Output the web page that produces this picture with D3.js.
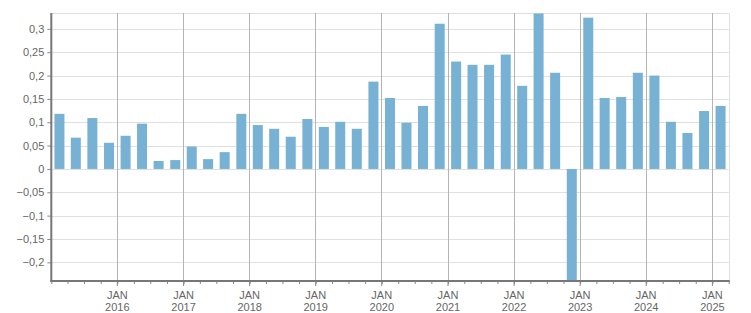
<!DOCTYPE html>
<html>
<head>
<meta charset="utf-8">
<script src="https://cdn.jsdelivr.net/npm/d3@7"></script>
<style>
  body { margin: 0; background: #fff; }
  text { font-family: "Liberation Sans", Arial, sans-serif; font-size: 11px; fill: #666; }
</style>
</head>
<body>
<svg id="chart" width="751" height="313"></svg>
<script>
// quarterly values, 2015 Q1 .. 2025 Q1
let quarters = d3.range(41).map(i => new Date(2015 + Math.floor(i / 4), (i % 4) * 3, 1));
let values = [
  0.118, 0.067, 0.109, 0.056,
  0.071, 0.097, 0.017, 0.019,
  0.048, 0.021, 0.036, 0.118,
  0.094, 0.086, 0.069, 0.107,
  0.090, 0.101, 0.086, 0.187,
  0.152, 0.099, 0.135, 0.311,
  0.230, 0.223, 0.223, 0.245,
  0.178, 0.333, 0.206, -0.240,
  0.324, 0.152, 0.154, 0.206,
  0.200, 0.101, 0.077, 0.124,
  0.135
];
let yTicks = [-0.2, -0.15, -0.1, -0.05, 0, 0.05, 0.1, 0.15, 0.2, 0.25, 0.3];
let xYears = [2016, 2017, 2018, 2019, 2020, 2021, 2022, 2023, 2024, 2025];
let monthLabel = "JAN";

let margins = {top: 13, bottom: 32, left: 51.3, right: 22.3},
    width = 751,
    height = 313;

let data = quarters.map((q, i) => ({start: q, end: d3.timeMonth.offset(q, 3), value: values[i]}));

let x = d3.scaleTime()
  .domain([new Date(2015, 0, 1), new Date(2025, 3, 1)])
  .range([margins.left, width - margins.right]);
let y = d3.scaleLinear()
  .domain([-0.24, 0.334])
  .range([height - margins.bottom, margins.top]);

let locale = d3.formatLocale({decimal: ",", thousands: ".", grouping: [3], currency: ["", ""]});
let fmt = v => locale.format("~r")(+v.toFixed(2));

let svg = d3.select("#chart");

// horizontal grid
svg.append("g")
  .selectAll("line")
  .data(yTicks.concat([y.domain()[1]]))
  .join("line")
  .attr("x1", margins.left).attr("x2", width - margins.right)
  .attr("y1", d => Math.round(y(d)) + 0.5).attr("y2", d => Math.round(y(d)) + 0.5)
  .attr("stroke", "#e0e0e0");

// right border
svg.append("line")
  .attr("x1", Math.round(width - margins.right) + 0.5).attr("x2", Math.round(width - margins.right) + 0.5)
  .attr("y1", margins.top).attr("y2", height - margins.bottom)
  .attr("stroke", "#e0e0e0");

// year grid
svg.append("g")
  .selectAll("line")
  .data(xYears)
  .join("line")
  .attr("x1", d => Math.floor(x(new Date(d, 0, 1))) + 0.5)
  .attr("x2", d => Math.floor(x(new Date(d, 0, 1))) + 0.5)
  .attr("y1", margins.top).attr("y2", height - margins.bottom)
  .attr("stroke", "#b4b4b4");

// bars
let barW = 10;
svg.append("g")
  .selectAll("rect")
  .data(data)
  .join("rect")
  .attr("x", d => (x(d.start) + x(d.end)) / 2 - barW / 2)
  .attr("width", barW)
  .attr("y", d => y(Math.max(0, d.value)))
  .attr("height", d => Math.abs(y(d.value) - y(0)))
  .attr("fill", "#77b1d3");

// y axis
let yAxis = d3.axisLeft(y).tickValues(yTicks).tickSize(4).tickPadding(3).tickFormat(fmt);
let gy = svg.append("g")
  .attr("transform", `translate(${margins.left},0)`)
  .call(yAxis);
gy.select(".domain").remove();
gy.selectAll(".tick line").attr("stroke", "#888");
gy.selectAll("text").attr("fill", "#666").style("font-size", "11px");
svg.append("line")
  .attr("x1", margins.left).attr("x2", margins.left)
  .attr("y1", margins.top).attr("y2", height - margins.bottom + 1)
  .attr("stroke", "#777").attr("stroke-width", 2);

// x axis: quarter ticks
let xAxis = d3.axisBottom(x).ticks(d3.timeMonth.every(3)).tickSize(3).tickFormat("");
let gx = svg.append("g")
  .attr("transform", `translate(0,${height - margins.bottom})`)
  .call(xAxis);
gx.select(".domain").remove();
gx.selectAll(".tick line").attr("stroke", "#888");

let gyear = svg.append("g")
  .attr("transform", `translate(0,${height - margins.bottom})`)
  .selectAll("g")
  .data(xYears)
  .join("g")
  .attr("transform", d => `translate(${x(new Date(d, 0, 1))},0)`);
gyear.append("line").attr("y2", 5).attr("stroke", "#888");
gyear.append("text").attr("y", 18).attr("text-anchor", "middle").text(monthLabel);
gyear.append("text").attr("y", 30).attr("text-anchor", "middle").text(d => d);

svg.append("line")
  .attr("x1", margins.left - 1).attr("x2", width - margins.right + 1)
  .attr("y1", height - margins.bottom).attr("y2", height - margins.bottom)
  .attr("stroke", "#777").attr("stroke-width", 2);
</script>
</body>
</html>
